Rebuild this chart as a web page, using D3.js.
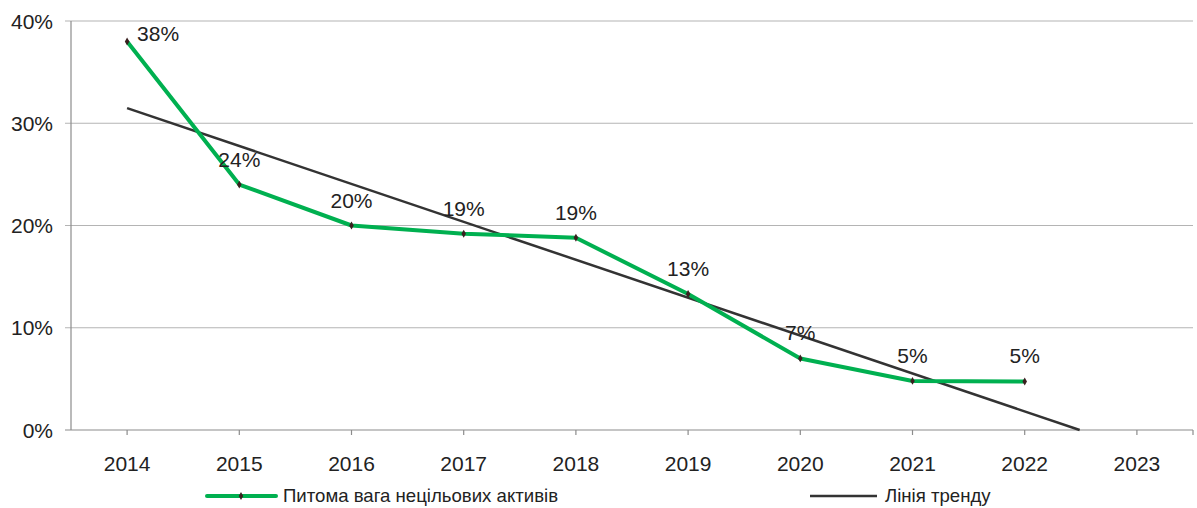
<!DOCTYPE html>
<html>
<head>
<meta charset="utf-8">
<script src="https://cdn.jsdelivr.net/npm/d3@7"></script>
<style>
body { margin: 0; background: #fff; }
text { font-family: "Liberation Sans", Arial, sans-serif; fill: #222; }
</style>
</head>
<body>
<svg id="chart" width="1197" height="508"></svg>
<script>
// chart data
var years = ["2014", "2015", "2016", "2017", "2018", "2019", "2020", "2021", "2022", "2023"];
var shares = [38.0, 24.0, 20.0, 19.2, 18.8, 13.3, 7.0, 4.8, 4.75];
var labels = ["38%", "24%", "20%", "19%", "19%", "13%", "7%", "5%", "5%"];
var yTicks = [0, 10, 20, 30, 40];
var seriesName = "Питома вага нецільових активів";
var trendName = "Лінія тренду";

var svg = d3.select("#chart");
var plotLeft = 71, plotRight = 1193, plotTop = 21, plotBottom = 430;

var x = d3.scalePoint().domain(years).range([plotLeft, plotRight]).padding(0.5);
var y = d3.scaleLinear().domain([0, 40]).range([plotBottom, plotTop]);
var step = x.step();

// gridlines
svg.append("g").selectAll("line")
    .data(yTicks)
    .enter().append("line")
    .attr("x1", plotLeft - 6).attr("x2", plotRight)
    .attr("y1", function(d) { return y(d); })
    .attr("y2", function(d) { return y(d); })
    .attr("stroke", function(d) { return d == 0 ? "#8c8c8c" : "#b4b4b4"; })
    .attr("stroke-width", 1.2);

// y axis line
svg.append("line").attr("x1", plotLeft).attr("x2", plotLeft)
    .attr("y1", plotTop).attr("y2", plotBottom)
    .attr("stroke", "#8c8c8c").attr("stroke-width", 1.2);

// x ticks (at category centres + right edge)
var xt = years.map(function(d) { return x(d); });
xt.push(plotRight);
svg.append("g").selectAll("line")
    .data(xt)
    .enter().append("line")
    .attr("x1", function(d) { return d; }).attr("x2", function(d) { return d; })
    .attr("y1", plotBottom).attr("y2", plotBottom + 5)
    .attr("stroke", "#8c8c8c").attr("stroke-width", 1.2);

// y labels
svg.append("g").selectAll("text")
    .data(yTicks)
    .enter().append("text")
    .attr("x", 53).attr("y", function(d) { return y(d); })
    .attr("dy", "0.36em")
    .attr("text-anchor", "end")
    .style("font-size", "21px")
    .text(function(d) { return d + "%"; });

// x labels
svg.append("g").selectAll("text")
    .data(years)
    .enter().append("text")
    .attr("x", function(d) { return x(d); }).attr("y", 471)
    .attr("text-anchor", "middle")
    .style("font-size", "21px")
    .text(function(d) { return d; });

// linear trend (least squares over the series)
var n = shares.length;
var mx = d3.mean(d3.range(n)), my = d3.mean(shares);
var sxy = d3.sum(shares, function(v, i) { return (i - mx) * (v - my); });
var sxx = d3.sum(d3.range(n), function(i) { return (i - mx) * (i - mx); });
var slope = sxy / sxx, icpt = my - slope * mx;
var xZero = -icpt / slope;
var trendPts = [[0, icpt], [xZero, 0]];
svg.append("path")
    .datum(trendPts)
    .attr("d", d3.line()
        .x(function(d) { return x(years[0]) + d[0] * step; })
        .y(function(d) { return y(d[1]); }))
    .attr("fill", "none")
    .attr("stroke", "#333333")
    .attr("stroke-width", 2.5);

// main series
var line = d3.line()
    .x(function(d, i) { return x(years[i]); })
    .y(function(d) { return y(d); });
svg.append("path")
    .datum(shares)
    .attr("d", line)
    .attr("fill", "none")
    .attr("stroke", "#00b050")
    .attr("stroke-width", 4)
    .attr("stroke-linejoin", "round");

svg.append("g").selectAll("path")
    .data(shares)
    .enter().append("path")
    .attr("d", d3.symbol().type(d3.symbolDiamond).size(18))
    .attr("transform", function(d, i) { return "translate(" + x(years[i]) + "," + y(d) + ")"; })
    .attr("fill", "#3a1f1f");

// data labels
svg.append("g").selectAll("text")
    .data(shares)
    .enter().append("text")
    .attr("x", function(d, i) { return i == 0 ? x(years[i]) + 10 : x(years[i]); })
    .attr("y", function(d, i) { return i == 0 ? y(d) + 0 : y(d) - 18; })
    .attr("text-anchor", function(d, i) { return i == 0 ? "start" : "middle"; })
    .style("font-size", "21px")
    .text(function(d, i) { return labels[i]; });

// legend
var ly = 496;
svg.append("line").attr("x1", 207).attr("x2", 276).attr("y1", ly).attr("y2", ly)
    .attr("stroke", "#00b050").attr("stroke-width", 4).attr("stroke-linecap", "round");
svg.append("path")
    .attr("d", d3.symbol().type(d3.symbolDiamond).size(18))
    .attr("transform", "translate(241," + ly + ")")
    .attr("fill", "#3a1f1f");
svg.append("text").attr("x", 283).attr("y", ly).attr("dy", "0.34em")
    .style("font-size", "18.6px").text(seriesName);

svg.append("line").attr("x1", 810).attr("x2", 877).attr("y1", ly).attr("y2", ly)
    .attr("stroke", "#333333").attr("stroke-width", 2.5);
svg.append("text").attr("x", 885).attr("y", ly).attr("dy", "0.34em")
    .style("font-size", "18.6px").text(trendName);
</script>
</body>
</html>
